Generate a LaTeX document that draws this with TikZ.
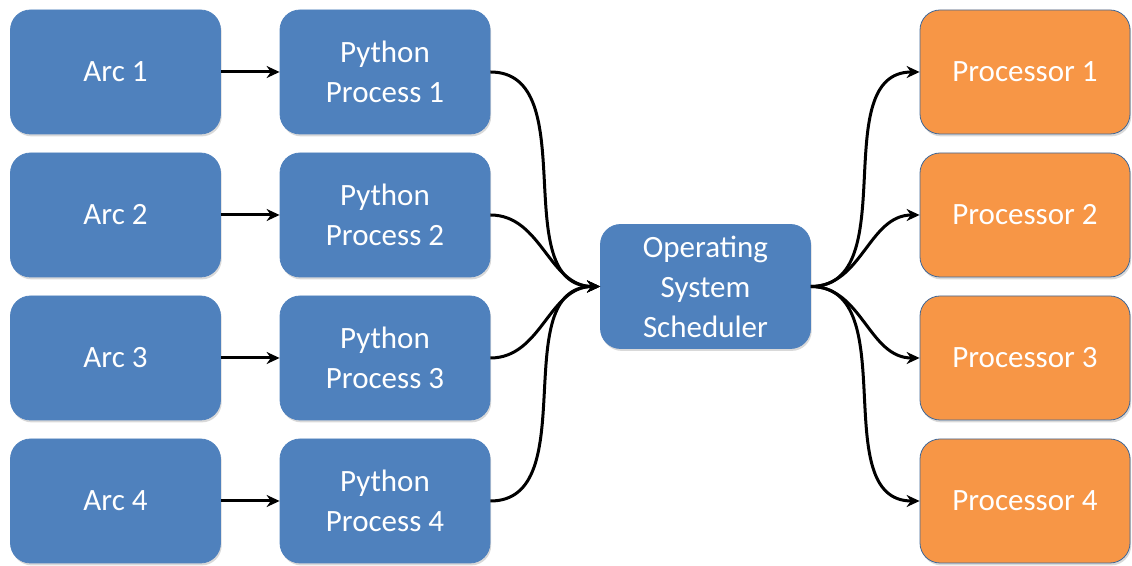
\documentclass[tikz,border=0pt]{standalone}
\usepackage{fontspec}
\setmainfont{Carlito}
\usetikzlibrary{arrows.meta,shadows}

\definecolor{procblue}{HTML}{4F81BD}
\definecolor{cpuorange}{HTML}{F79646}

\begin{document}
\begin{tikzpicture}[x=0.5pt, y=-0.5pt]
        \tikzstyle{box}=[rounded corners=10pt, minimum width=105pt, minimum height=62pt, align=center, text=white, font=\fontsize{15.5}{20}\selectfont, drop shadow={shadow xshift=0.6pt, shadow yshift=-1.2pt, opacity=0.3}]
        \tikzstyle{task}=[box, fill=procblue, draw=procblue, line width=0.4pt]
        \tikzstyle{cpu}=[box, fill=cpuorange, draw=procblue!80!black, line width=0.4pt]
        \tikzstyle{link}=[line width=1.5pt, -{Stealth[length=6.5pt, width=6pt]}]
        \useasboundingbox (0,0) rectangle (1132,566);
        % arcs and their python processes
        \node [task] (arc1) at (115.5,72) {Arc 1};
        \node [task] (arc2) at (115.5,215) {Arc 2};
        \node [task] (arc3) at (115.5,358) {Arc 3};
        \node [task] (arc4) at (115.5,501) {Arc 4};
        \node [task] (py1) at (385,72) {Python\\Process 1};
        \node [task] (py2) at (385,215) {Python\\Process 2};
        \node [task] (py3) at (385,358) {Python\\Process 3};
        \node [task] (py4) at (385,501) {Python\\Process 4};
        % scheduler in the middle
        \node [task] (os) at (705.5,286.5) {Operating\\System\\Scheduler};
        % processors
        \node [cpu] (cpu1) at (1025,72) {Processor 1};
        \node [cpu] (cpu2) at (1025,215) {Processor 2};
        \node [cpu] (cpu3) at (1025,358) {Processor 3};
        \node [cpu] (cpu4) at (1025,501) {Processor 4};
        \foreach \i in {1,2,3,4} {
            \draw [link] (arc\i) -- (py\i);
            \draw [link] (py\i.east) to [out=0, in=180] (os.west);
            \draw [link] (os.east) to [out=0, in=180] (cpu\i.west);
        }
    \end{tikzpicture}
\end{document}
